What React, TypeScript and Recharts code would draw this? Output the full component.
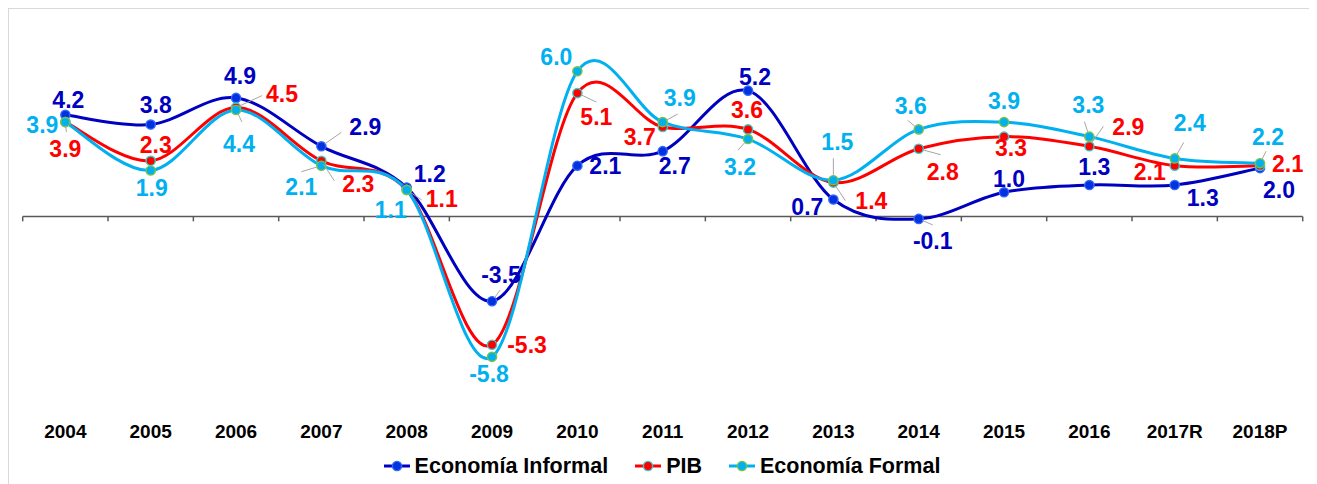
import React from 'react';
import { LineChart, Line, XAxis, YAxis, ReferenceLine, Legend } from 'recharts';

// ---------- data ----------
const years = ['2004', '2005', '2006', '2007', '2008', '2009', '2010', '2011', '2012', '2013', '2014', '2015', '2016', '2017R', '2018P'];
const informal = [4.2, 3.8, 4.9, 2.9, 1.2, -3.5, 2.1, 2.7, 5.2, 0.7, -0.1, 1.0, 1.3, 1.3, 2.0];
const pib = [3.9, 2.3, 4.5, 2.3, 1.1, -5.3, 5.1, 3.7, 3.6, 1.4, 2.8, 3.3, 2.9, 2.1, 2.1];
const formal = [3.9, 1.9, 4.4, 2.1, 1.1, -5.8, 6.0, 3.9, 3.2, 1.5, 3.6, 3.9, 3.3, 2.4, 2.2];

const data = years.map((year, i) => ({ idx: i, year, informal: informal[i], pib: pib[i], formal: formal[i] }));

// ---------- label layout (offsets of label centre from point, in px) ----------
const informalOffsets = [[3, -15], [5, -20], [4, -22], [44, -20], [23, -14], [9, -26], [28, 0], [12, 15], [7, -14], [-26, 7], [14, 22], [5, -14], [5, -18], [28, 13], [19, 22]];
const pibOffsets = [[0, 27], [5, -16], [46, -14], [37, 23], [35, 9], [35, 0], [19, 24], [-23, 10], [-1, -20], [38, 18], [24, 23], [7, 11], [39, -20], [-25, 6], [28, -2]];
const formalOffsets = [[-23, 3], [1, 17], [3, 34], [-20, 21], [-16, 20], [-3, 17], [-21, -15], [17, -24], [-8, 28], [4, -38], [-8, -24], [0, -21], [-1, -32], [15, -36], [8, -27]];

const informalLeaders: (number[] | null)[] = [null, null, null, [20, -14], null, [8, -11], null, null, null, null, [14, 6], null, null, null, null];
const pibLeaders: (number[] | null)[] = [null, null, [26, -12], [13, 20], [15, 10], null, [19, 9], null, null, [12, 18], [22, 6], null, [14, -20], null, null];
const formalLeaders: (number[] | null)[] = [[1, 10], null, [6, 12], [-20, 6], null, null, null, [15, -8], [-10, 11], [0, -22], [-11, -9], null, [-5, -15], [9, -16], [6, -12]];

// ---------- styles ----------
const FONT = '"Liberation Sans", Arial, sans-serif';
const LABEL_FS = 23;
const C_INF = '#0000C0';
const C_PIB = '#FF0000';
const C_FOR = '#00B0F0';
const LEADER = '#A6A6A6';

// Catmull-Rom (Excel-like smoothed line) curve factory
const smoothCurve = (context: any) => {
  let pts: number[][] = [];
  return {
    areaStart() {},
    areaEnd() {},
    lineStart() {
      pts = [];
    },
    lineEnd() {
      if (!pts.length) return;
      context.moveTo(pts[0][0], pts[0][1]);
      for (let i = 0; i < pts.length - 1; i++) {
        const p0 = pts[i - 1] || pts[i];
        const p1 = pts[i];
        const p2 = pts[i + 1];
        const p3 = pts[i + 2] || p2;
        context.bezierCurveTo(
          p1[0] + (p2[0] - p0[0]) / 6,
          p1[1] + (p2[1] - p0[1]) / 6,
          p2[0] - (p3[0] - p1[0]) / 6,
          p2[1] - (p3[1] - p1[1]) / 6,
          p2[0],
          p2[1]
        );
      }
    },
    point(x: number, y: number) {
      pts.push([+x, +y]);
    },
  };
};

const makeDot = (fill: string, stroke: string) => (props: any) => {
  const { cx, cy, index } = props;
  if (cx == null || cy == null) return <g key={`d-${index}`} />;
  return <circle key={`d-${index}`} cx={cx} cy={cy} r={4.6} fill={fill} stroke={stroke} strokeWidth={1.4} />;
};

const makeLabel = (color: string, offsets: number[][], leaders: (number[] | null)[]) => (props: any) => {
  const { cx, cy, index, value } = props;
  if (cx == null || cy == null || value == null) return <g key={`l-${index}`} />;
  const [dx, dy] = offsets[index];
  const lead = leaders[index];
  let leaderEl = null;
  if (lead) {
    const [lx, ly] = lead;
    const d = Math.hypot(lx, ly) || 1;
    leaderEl = (
      <line x1={cx + (lx / d) * 4} y1={cy + (ly / d) * 4} x2={cx + lx} y2={cy + ly} stroke={LEADER} strokeWidth={1} />
    );
  }
  return (
    <g key={`l-${index}`}>
      {leaderEl}
      <text
        x={cx + dx}
        y={cy + dy + 0.36 * LABEL_FS}
        textAnchor="middle"
        fill={color}
        fontSize={LABEL_FS}
        fontWeight={700}
        fontFamily={FONT}
      >
        {Number(value).toFixed(1)}
      </text>
    </g>
  );
};

const legendItems = [
  { name: 'Economía Informal', line: C_INF, fill: '#0033DD', stroke: '#3366FF' },
  { name: 'PIB', line: C_PIB, fill: '#FF0000', stroke: '#33CCCC' },
  { name: 'Economía Formal', line: C_FOR, fill: C_FOR, stroke: '#7CC242' },
];

const renderLegend = () => (
  <div style={{ display: 'flex', justifyContent: 'center', alignItems: 'center', height: 26, fontFamily: FONT }}>
    {legendItems.map((it, i) => (
      <div key={it.name} style={{ display: 'flex', alignItems: 'center', marginLeft: i === 0 ? 0 : 26 }}>
        <svg width={28} height={14} style={{ marginRight: 4 }}>
          <line x1={1} y1={7} x2={27} y2={7} stroke={it.line} strokeWidth={3} />
          <circle cx={14} cy={7} r={4.6} fill={it.fill} stroke={it.stroke} strokeWidth={1.4} />
        </svg>
        <span style={{ fontSize: 21.5, fontWeight: 700, color: '#000', lineHeight: '26px' }}>{it.name}</span>
      </div>
    ))}
  </div>
);

const tickIdx = years.map((_, i) => i);
const boundaries = [-0.5, ...years.map((_, i) => i + 0.5)];

export default function App() {
  return (
    <div style={{ width: 1305, height: 475, border: '1px solid #D9D9D9', background: '#fff' }}>
      <LineChart width={1305} height={475} data={data} margin={{ top: 13.9, left: 13.7, right: 11.3, bottom: 33.9 }}>
        <XAxis
          dataKey="idx"
          type="number"
          domain={[-0.5, 14.5]}
          ticks={tickIdx}
          interval={0}
          allowDataOverflow
          tickFormatter={(v: number) => years[v]}
          axisLine={false}
          tickLine={false}
          tickSize={0}
          tickMargin={14}
          height={40}
          tick={{ fontSize: 19, fontWeight: 700, fill: '#000', fontFamily: FONT }}
        />
        <YAxis hide type="number" domain={[-8, 8]} allowDataOverflow />
        <ReferenceLine y={0} stroke="#595959" strokeWidth={1.5} />
        {boundaries.map((b) => (
          <ReferenceLine
            key={`t-${b}`}
            segment={[
              { x: b, y: 0 },
              { x: b, y: -0.2 },
            ]}
            stroke="#595959"
            strokeWidth={1.5}
          />
        ))}
        <Line dataKey="informal" type={smoothCurve as any} stroke={C_INF} strokeWidth={3} dot={makeDot('#0033DD', '#3366FF')} activeDot={false} isAnimationActive={false} />
        <Line dataKey="pib" type={smoothCurve as any} stroke={C_PIB} strokeWidth={3} dot={makeDot('#FF0000', '#33CCCC')} activeDot={false} isAnimationActive={false} />
        <Line dataKey="formal" type={smoothCurve as any} stroke={C_FOR} strokeWidth={3} dot={makeDot(C_FOR, '#7CC242')} activeDot={false} isAnimationActive={false} />
        {/* label layers drawn on top of all lines */}
        <Line dataKey="informal" stroke="none" legendType="none" dot={makeLabel(C_INF, informalOffsets, informalLeaders)} activeDot={false} isAnimationActive={false} />
        <Line dataKey="pib" stroke="none" legendType="none" dot={makeLabel(C_PIB, pibOffsets, pibLeaders)} activeDot={false} isAnimationActive={false} />
        <Line dataKey="formal" stroke="none" legendType="none" dot={makeLabel(C_FOR, formalOffsets, formalLeaders)} activeDot={false} isAnimationActive={false} />
        <Legend
          content={renderLegend}
          layout="horizontal"
          verticalAlign="middle"
          align="center"
          wrapperStyle={{ top: 444, left: 0, width: 1305, height: 26 }}
        />
      </LineChart>
    </div>
  );
}
